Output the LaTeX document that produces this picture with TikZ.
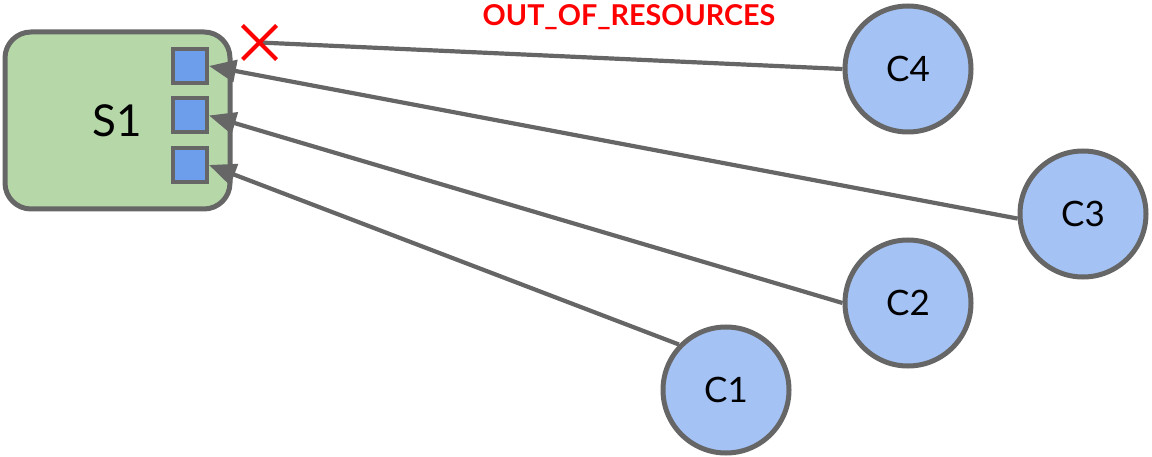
\documentclass[tikz,border=0pt]{standalone}
\usepackage{fontspec}
\setmainfont{Lato}
\usetikzlibrary{arrows.meta,calc}
\definecolor{edgegray}{HTML}{666666}
\definecolor{boxgreen}{HTML}{B6D7A8}
\definecolor{portblue}{HTML}{6D9EEB}
\definecolor{clientblue}{HTML}{A4C2F4}
\definecolor{errred}{HTML}{FF0000}
\tikzset{
  serverbox/.style={draw=edgegray, fill=boxgreen, line width=5pt, rounded corners=26pt,
    minimum width=225pt, minimum height=177pt, inner sep=0pt, font=\fontsize{44}{48}\selectfont},
  portbox/.style={draw=edgegray, fill=portblue, line width=4pt, minimum size=34pt, inner sep=0pt},
  client/.style={circle, draw=edgegray, fill=clientblue, line width=5pt, minimum size=126pt,
    inner sep=0pt, font=\fontsize{35}{40}\selectfont},
  conn/.style={draw=edgegray, line width=4.2pt},
  arr/.style={conn, -{Triangle[length=27pt,width=22pt]}},
  cross/.style={draw=errred, line width=4pt},
}
\begin{document}
\begin{tikzpicture}[x=1pt,y=-1pt]
\useasboundingbox (0,0) rectangle (1152,457);
\node[serverbox] (S1) at (117.5,120.5) {S1};
\node[portbox] (P1) at (190,66) {};
\node[portbox] (P2) at (190,115.5) {};
\node[portbox] (P3) at (190,165) {};
\node[client] (C4) at (908,69) {C4};
\node[client] (C3) at (1083,214) {C3};
\node[client] (C2) at (908,303) {C2};
\node[client] (C1) at (726,390) {C1};
\coordinate (X) at (259.5,42.5);
\draw[conn] (C4.west) -- (X);
\draw[cross] ($(X)+(-17,-17)$) -- ($(X)+(17,17)$);
\draw[cross] ($(X)+(-17,17)$) -- ($(X)+(17,-17)$);
\draw[arr] (C3.184) -- (P1.east);
\draw[arr] (C2.west) -- (P2.east);
\draw[arr] (C1.136) -- (P3.east);
\node[text=errred, font=\bfseries\fontsize{28.7}{32}\selectfont] (lbl) at (629,17) {OUT\_OF\_RESOURCES};
\end{tikzpicture}
\end{document}
